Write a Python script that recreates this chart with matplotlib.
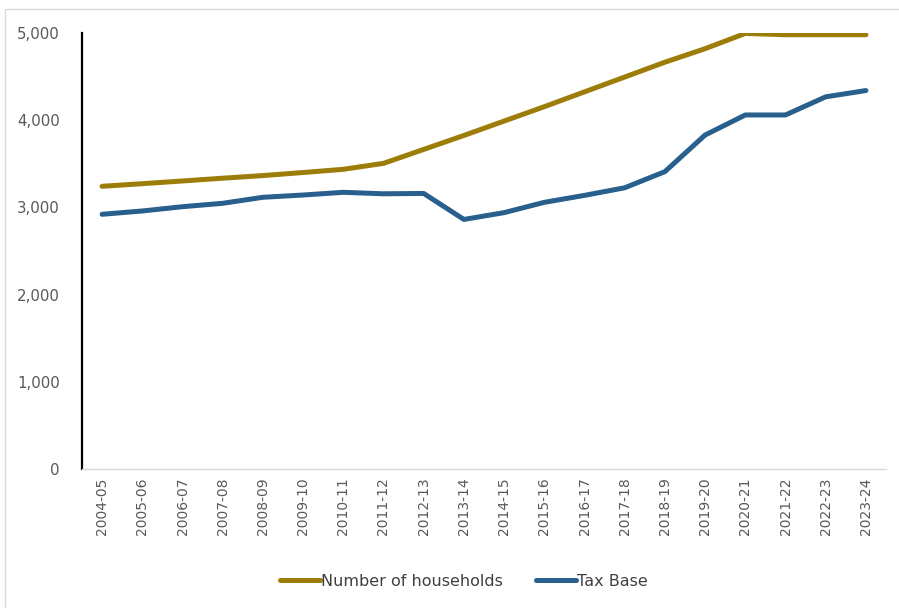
import matplotlib
matplotlib.use("Agg")
import matplotlib.pyplot as plt
from matplotlib.ticker import FuncFormatter, MultipleLocator
from matplotlib.patches import Rectangle

years = ["2004-05", "2005-06", "2006-07", "2007-08", "2008-09", "2009-10",
         "2010-11", "2011-12", "2012-13", "2013-14", "2014-15", "2015-16",
         "2016-17", "2017-18", "2018-19", "2019-20", "2020-21", "2021-22",
         "2022-23", "2023-24"]
households = [3242, 3272, 3303, 3335, 3365, 3400, 3437, 3505, 3665, 3825,
              3990, 4155, 4325, 4495, 4665, 4820, 4995, 4980, 4980, 4980]
tax_base = [2921, 2959, 3008, 3047, 3116, 3142, 3173, 3156, 3160, 2862,
            2940, 3058, 3138, 3225, 3410, 3830, 4060, 4060, 4268, 4340]

gold = "#9C7D08"
blue = "#285F8D"

fig = plt.figure(figsize=(8.99, 6.08), dpi=100)
fig.patches.append(Rectangle((5/899, -0.1), 1.2, (608-9)/608 + 0.1,
                             transform=fig.transFigure, fill=False,
                             edgecolor="#D9D9D9", linewidth=1.0))
ax = fig.add_axes([82/899, 139/608, (886-82)/899, (469-33)/608])

x = list(range(len(years)))
ax.plot(x, households, color=gold, lw=3.6, solid_joinstyle="round",
        solid_capstyle="round", label="Number of households")
ax.plot(x, tax_base, color=blue, lw=3.6, solid_joinstyle="round",
        solid_capstyle="round", label="Tax Base")

ax.set_xlim(-0.5, len(years) - 0.5)
ax.set_ylim(0, 5000)
ax.yaxis.set_major_locator(MultipleLocator(1000))
ax.yaxis.set_major_formatter(FuncFormatter(lambda v, p: f"{int(v):,}"))
ax.set_xticks(x)
ax.set_xticklabels(years, rotation=90)

for s in ["top", "right"]:
    ax.spines[s].set_visible(False)
ax.spines["left"].set_color("black")
ax.spines["left"].set_linewidth(1.6)
ax.spines["bottom"].set_color("#D9D9D9")
ax.spines["bottom"].set_linewidth(1.0)

ax.tick_params(axis="y", length=0, pad=16, labelsize=10.8, labelcolor="#595959")
ax.tick_params(axis="x", length=0, pad=6, labelsize=10, labelcolor="#595959")

leg = fig.legend(loc="center", bbox_to_anchor=(464/899, 1 - 581/608), ncol=2,
                 frameon=False, handlelength=2.5, handletextpad=0.05,
                 columnspacing=2.1,
                 prop={"family": ["Liberation Sans Narrow", "DejaVu Sans Condensed", "DejaVu Sans"], "size": 11.5})
for t in leg.get_texts():
    t.set_color("#404040")

fig.savefig("out.png", dpi=100)
